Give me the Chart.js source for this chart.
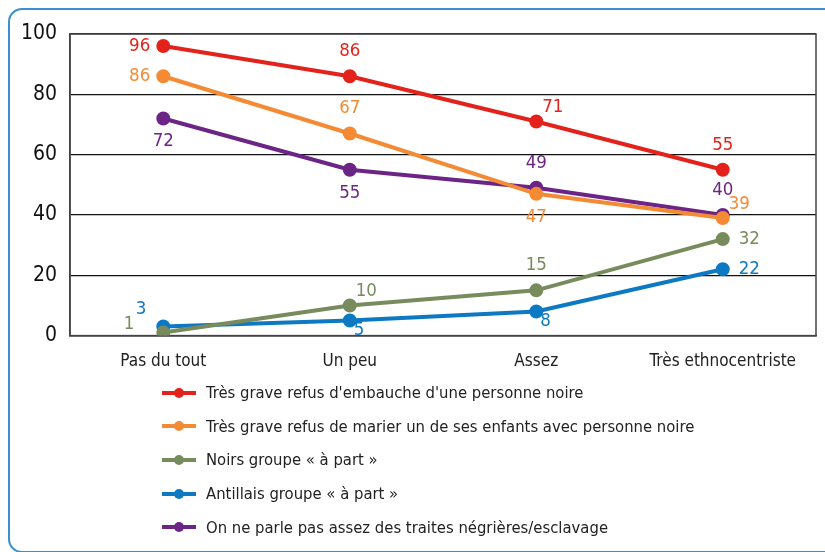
<!DOCTYPE html>
<html lang="fr">
<head>
<meta charset="utf-8">
<script src="https://cdn.jsdelivr.net/npm/chart.js@4.4.1/dist/chart.umd.min.js"></script>
<style>
    html, body { margin: 0; padding: 0; background: #fff; }
    body { width: 825px; height: 552px; position: relative; overflow: hidden;
           font-family: 'Liberation Sans Narrow', 'DejaVu Sans Condensed', 'Liberation Sans', sans-serif; }
    .frame { position: absolute; left: 8px; top: 8px; width: 840px; height: 541px;
             border: 2px solid #3b8fcf; border-radius: 14px; }
    .chart-box { position: absolute; left: 0; top: 0; width: 825px; height: 380px; }
    #legend { position: absolute; left: 162px; top: 376px; margin: 0; padding: 0; list-style: none; }
    #legend li { height: 33.6px; display: flex; align-items: center; font-size: 16.5px; color: #222; }
    #legend .swatch { position: relative; width: 34px; height: 4px; margin-right: 10px; }
    #legend .swatch i { position: absolute; left: 12px; top: -3px; width: 10px; height: 10px; border-radius: 50%; }
</style>
</head>
<body>
<div class="frame"></div>
<div class="chart-box"><canvas id="ethnoChart"></canvas></div>
<ul id="legend"></ul>
<script>
const categories = ['Pas du tout', 'Un peu', 'Assez', 'Très ethnocentriste'];

const embauche = [96, 86, 71, 55];
const mariage = [86, 67, 47, 39];
const noirsApart = [1, 10, 15, 32];
const antillaisApart = [3, 5, 8, 22];
const traites = [72, 55, 49, 40];

const seriesNames = [
    "Très grave refus d'embauche d'une personne noire",
    'Très grave refus de marier un de ses enfants avec personne noire',
    'Noirs groupe « à part »',
    'Antillais groupe « à part »',
    'On ne parle pas assez des traites négrières/esclavage'
];
const seriesColors = ['#e3231b', '#f48a33', '#788b5d', '#0d79c3', '#6c2586'];

// where each value label sits relative to its point
const labelSpots = [
    ['left', 'above', 'aboveRight', 'above'],
    ['left', 'above', 'below', 'aboveRight'],
    ['belowLeft', 'aboveRight', 'above', 'right'],
    ['aboveLeft', 'belowRight', 'belowRight', 'right'],
    ['below', 'below', 'above', 'above']
];

const FONT = "'Liberation Sans Narrow', 'DejaVu Sans Condensed', 'Liberation Sans', sans-serif";

const allSeries = [embauche, mariage, noirsApart, antillaisApart, traites];

const valueLabels = {
    id: 'valueLabels',
    afterDatasetsDraw(chart) {
        const ctx = chart.ctx;
        ctx.save();
        ctx.font = '18.5px ' + FONT;
        ctx.textBaseline = 'middle';
        chart.data.datasets.forEach((ds, i) => {
            chart.getDatasetMeta(i).data.forEach((pt, j) => {
                const spot = labelSpots[i][j];
                let dx = 0, dy = 0, align = 'center';
                if (spot === 'left') { dx = -13; align = 'right'; }
                if (spot === 'right') { dx = 16; align = 'left'; }
                if (spot === 'above') { dy = -25; }
                if (spot === 'below') { dy = 23; }
                if (spot === 'aboveRight') { dx = 6; dy = -14; align = 'left'; }
                if (spot === 'aboveLeft') { dx = -17; dy = -17; align = 'right'; }
                if (spot === 'belowRight') { dx = 4; dy = 10; align = 'left'; }
                if (spot === 'belowLeft') { dx = -29; dy = -8; align = 'right'; }
                ctx.fillStyle = ds.borderColor;
                ctx.textAlign = align;
                ctx.fillText(ds.data[j], pt.x + dx, pt.y + dy);
            });
        });
        ctx.restore();
    }
};

// closes the plot frame on the right and top
const plotFrame = {
    id: 'plotFrame',
    beforeDatasetsDraw(chart) {
        const a = chart.chartArea;
        const ctx = chart.ctx;
        ctx.save();
        ctx.strokeStyle = '#444';
        ctx.lineWidth = 1.5;
        ctx.strokeRect(a.left, a.top, a.right - a.left, a.bottom - a.top);
        ctx.restore();
    }
};

const ctx = document.getElementById('ethnoChart').getContext('2d');
const ethnoChart = new Chart(ctx, {
    type: 'line',
    data: {
        labels: categories,
        datasets: allSeries.map((values, i) => ({
            label: seriesNames[i],
            data: values,
            borderColor: seriesColors[i],
            backgroundColor: seriesColors[i],
            borderWidth: 4,
            pointRadius: 5,
            pointHoverRadius: 5,
            tension: 0,
            fill: false
        }))
    },
    options: {
        responsive: true,
        maintainAspectRatio: false,
        animation: false,
        layout: { padding: { top: 34, left: 8, right: 6, bottom: 0 } },
        plugins: {
            legend: { display: false },
            tooltip: { enabled: false }
        },
        scales: {
            x: {
                offset: true,
                grid: { display: false },
                border: { color: '#444', width: 1.5 },
                ticks: { color: '#222', font: { family: FONT, size: 17 }, padding: 8 }
            },
            y: {
                min: 0,
                max: 100,
                ticks: { stepSize: 20, color: '#111', font: { family: FONT, size: 21 }, padding: 13 },
                grid: { color: '#111', lineWidth: 1.2, drawTicks: false },
                border: { color: '#444', width: 1.5 }
            }
        }
    },
    plugins: [plotFrame, valueLabels]
});

// legend, one entry per line
const legendList = document.getElementById('legend');
ethnoChart.data.datasets.forEach(ds => {
    const li = document.createElement('li');
    li.innerHTML = '<span class="swatch" style="background:' + ds.borderColor + '"><i style="background:' +
        ds.borderColor + '"></i></span>';
    li.appendChild(document.createTextNode(ds.label));
    legendList.appendChild(li);
});
</script>
</body>
</html>
